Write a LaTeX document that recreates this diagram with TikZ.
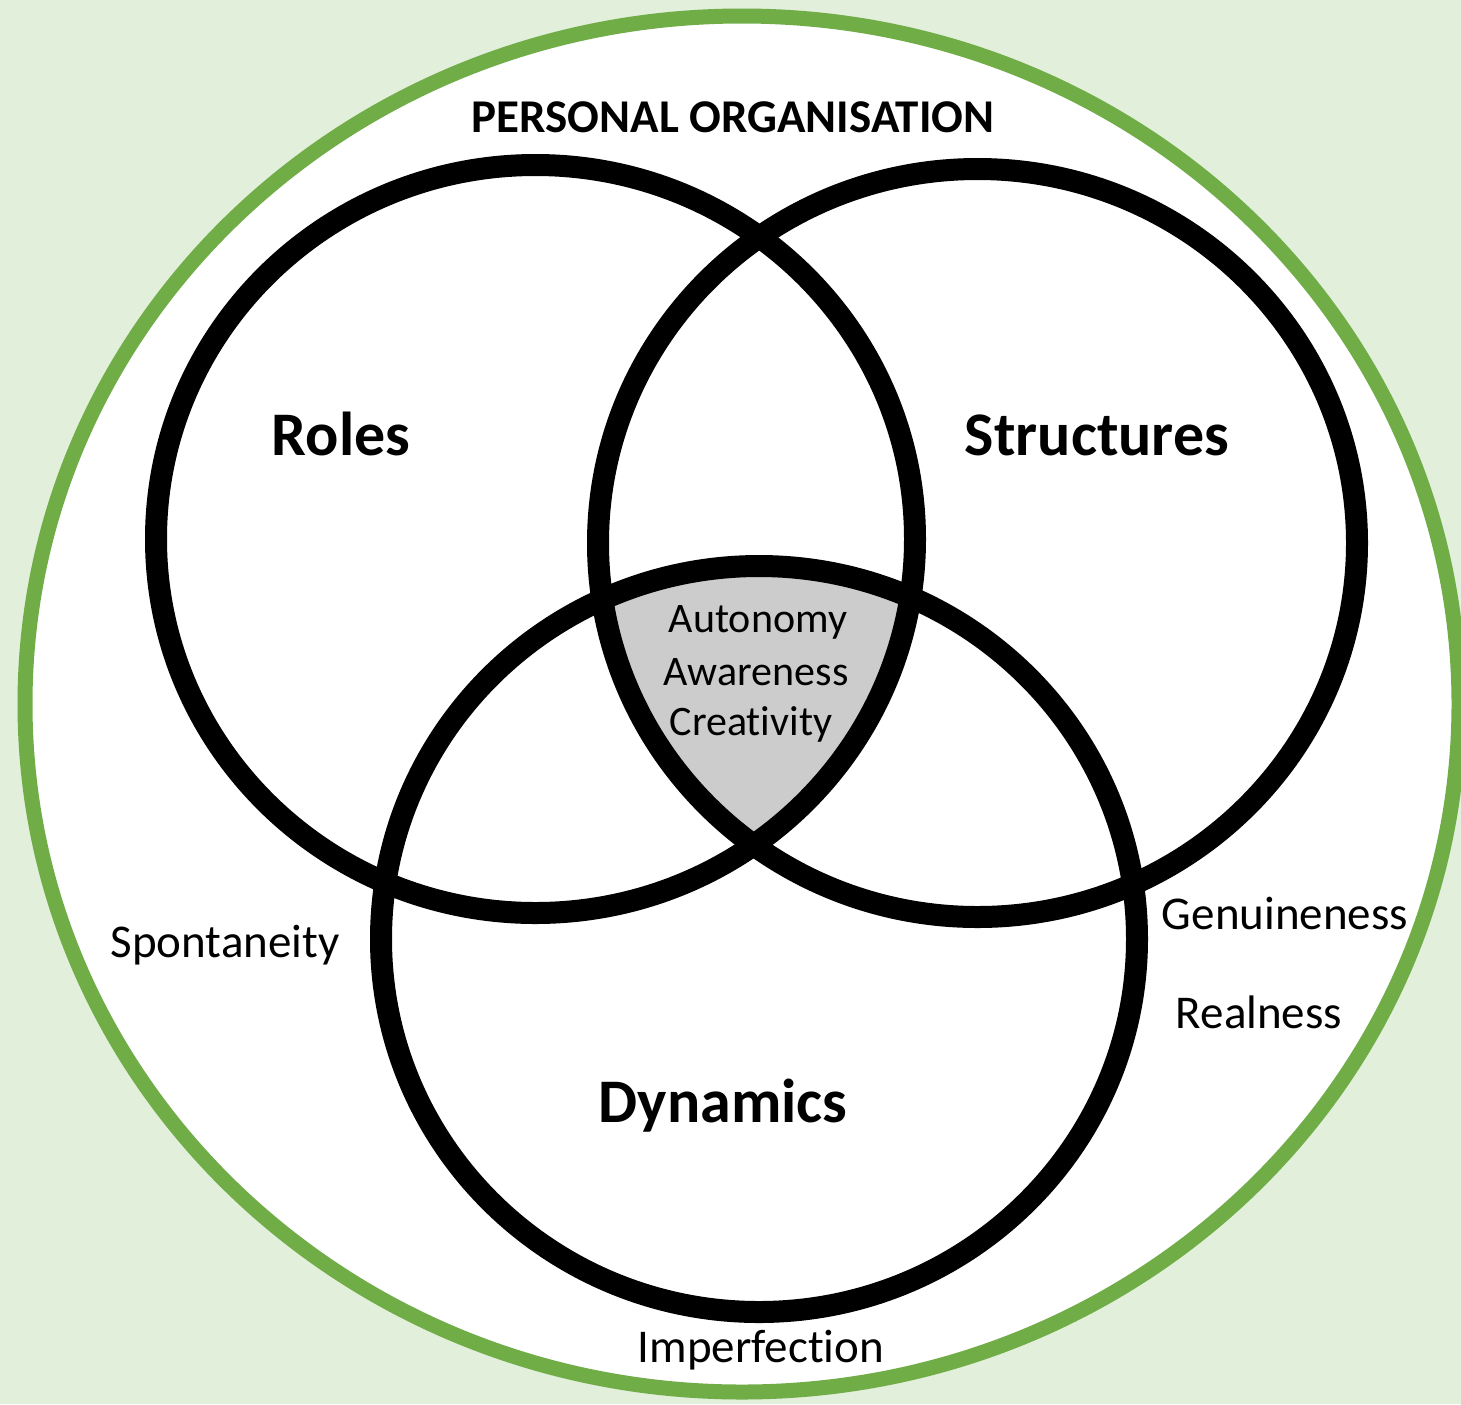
\documentclass[tikz,border=0pt]{standalone}
\usepackage{fontspec}
\setmainfont[Ligatures=NoCommon]{Carlito}
\usepackage{tikz}
\definecolor{paleGreen}{HTML}{E2EFDA}
\definecolor{leafGreen}{HTML}{70AD47}
\definecolor{coreGray}{HTML}{CCCCCC}

\begin{document}
\begin{tikzpicture}[x=0.5pt,y=-0.5pt,
        ring/.style={draw=black,line width=11pt},
        word/.style={anchor=base,inner sep=0pt,font=\fontsize{23.5}{28}\selectfont},
        coreword/.style={anchor=base,inner sep=0pt,font=\fontsize{21}{25}\selectfont},
        setname/.style={anchor=base,inner sep=0pt,font=\bfseries\fontsize{31}{37}\selectfont},
        heading/.style={anchor=base,inner sep=0pt,font=\bfseries\fontsize{23.5}{28}\selectfont}]
            \useasboundingbox (0,0) rectangle (1461,1404);
            \fill[paleGreen] (0,0) rectangle (1461,1404);
            % centres of the outer field and the three sets
            \coordinate (O) at (742,704);
            \coordinate (R) at (535.5,539);
            \coordinate (S) at (977.5,543);
            \coordinate (D) at (759,939);
            \draw[leafGreen,fill=white,line width=7.5pt] (O) ellipse [x radius=717,y radius=688];
            % shared core of all three sets
            \begin{scope}
                \clip (R) ellipse [x radius=379.5,y radius=374];
                \clip (S) ellipse [x radius=379.5,y radius=374];
                \fill[coreGray] (D) ellipse [x radius=378,y radius=373];
            \end{scope}
            \draw[ring] (R) ellipse [x radius=379.5,y radius=374];
            \draw[ring] (S) ellipse [x radius=379.5,y radius=374];
            \draw[ring] (D) ellipse [x radius=378,y radius=373];
            \node[heading] (Org) at (733,132) {PERSONAL ORGANISATION};
            \node[setname] (Roles) at (341,455) {Roles};
            \node[setname] (Struct) at (1097,455) {Structures};
            \node[setname] (Dyn) at (723,1122) {Dynamics};
            \node[coreword] (Aut) at (758,632) {Autonomy};
            \node[coreword] (Awa) at (756,685) {Awareness};
            \node[coreword] (Cre) at (751,735) {Creativity};
            \node[word] (Spo) at (225,957) {Spontaneity};
            \node[word] (Gen) at (1285,929) {Genuineness};
            \node[word] (Rea) at (1259,1028) {Realness};
            \node[word] (Imp) at (761,1362) {Imperfection};
        \end{tikzpicture}
\end{document}
